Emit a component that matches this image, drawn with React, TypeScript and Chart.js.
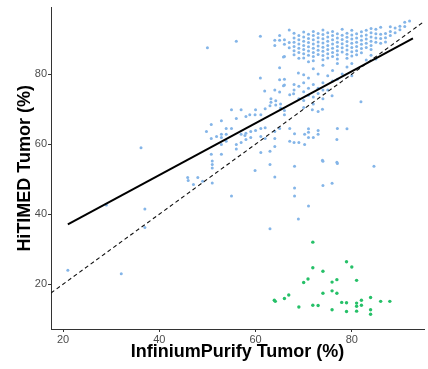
import React, { useEffect, useRef } from "react";
import { Chart, registerables } from "chart.js";

Chart.register(...registerables);

const xTickValues = [20, 40, 60, 80];
const yTickValues = [20, 40, 60, 80];

// Upper dense cluster, stored as columns: x value and the y values in that column
const upperColumnX = [64, 65, 66, 67, 68, 69, 70, 71, 72, 73, 74, 75, 76, 77, 78, 79, 80, 81, 82, 83, 84, 85, 86, 87, 88, 89, 90, 91, 92];
const upperColumnY: number[][] = [
  [89.7, 88.2],
  [89.7, 91],
  [89.8, 88.5, 85],
  [92.6, 87.5, 89],
  [91.7, 90.3, 89.1, 87.9, 86.7, 85.5],
  [91, 89.8, 88.6, 87.4, 86.2, 84.5],
  [92, 90.6, 89.4, 88.2, 87, 85.8, 84.6],
  [91.4, 90.2, 89, 87.8, 86.6, 85.4, 83.5],
  [92.2, 91, 89.8, 88.6, 87.4, 86.2, 85, 83.8],
  [91.6, 90.4, 89.2, 88, 86.8, 85.6],
  [92.6, 91.3, 90.1, 88.9, 87.7, 86.5, 85.3, 84.1],
  [91.8, 90.6, 89.4, 88.2, 87, 85.8, 84.6],
  [92.2, 91, 89.8, 88.6, 87.4, 86.2, 85],
  [91.5, 90.3, 89.1, 87.9, 86.7, 85.5, 84.3],
  [92.8, 91.1, 89.9, 88.7, 87.5, 86.3],
  [91.7, 90.5, 89.3, 88.1, 86.9, 85.7, 84.5],
  [92.5, 91.2, 90, 88.8, 87.6, 86.4, 85.2],
  [91.5, 90.3, 89.1, 87.9, 86.7, 85.5],
  [92.1, 90.9, 89.7, 88.5, 87.3, 86.1],
  [92.5, 91.2, 90, 88.8, 87.6],
  [93, 91.8, 90.6, 89.4, 88.2, 87, 85.4],
  [92.8, 91.5, 90.3, 89.1, 84.3],
  [93.4, 91.4, 90.2, 88.8],
  [91.6, 90.4, 89.2],
  [93.5, 92.2, 91],
  [93.2, 91.8],
  [93.7, 92.7],
  [94.8, 93.6],
  [95.2],
];

const blueMiddle: [number, number][] = [
  [61.9, 75.2], [64, 75.5], [65, 74.9], [66, 76.9], [66, 78.5], [63.2, 73], [63.2, 72], [64.2, 72.4],
  [64.2, 71.2], [65.2, 71.5], [65.2, 70.3], [66, 69.6], [66, 68.4], [67.1, 74.1], [67.9, 74.4], [63, 71],
  [62, 70.1], [60, 69.8], [61.1, 68.4], [59.9, 68.4], [58.8, 68.4], [57, 69.8], [55, 69.8], [58, 67.9],
  [56, 67.3], [52.9, 66.7], [50.8, 65.6], [53.9, 64.5], [55, 64.5], [57, 62.8], [58, 63.1], [59, 63.6],
  [60, 63.9], [61.1, 64.5], [62, 64.7], [56, 59.9], [57, 60.5], [58, 61.3], [59, 61.9], [61.1, 62.2],
  [62, 61.6], [64, 63.6], [65, 64.5], [64, 61.6], [67.1, 64.5], [68.1, 63], [67.1, 60.8], [49.8, 63.6],
  [50.8, 61.6], [51.9, 62.2], [52.9, 62.8], [53.9, 62.8], [52.9, 59.9], [53.9, 60.8], [52.9, 61.9],
  [56, 58.6], [57.8, 62.5], [81.9, 72.1], [79, 64.4], [76.9, 61.3], [73, 63.9], [73, 62.8], [71, 64.4],
  [71, 63.4], [68, 60.5], [69, 60.5], [70.2, 59.9], [70.2, 62.8], [71, 61.9], [72, 61.9], [71.8, 69.8],
  [73, 69.3], [73.9, 70], [75.9, 73.8], [77, 64.5], [68, 77], [68, 75.5], [69, 76.5], [69, 73],
  [70, 77.5], [70, 75], [70, 72.5], [71, 76], [71, 74], [72, 77], [72, 73.5], [73, 76], [73, 74.5],
  [74, 77.5], [74, 75.5], [74, 73], [75, 75.5], [76, 78], [72, 71.5], [70, 70.5], [65, 81.8],
  [65.8, 84.9], [68.9, 80.3], [70, 79.8], [71, 78.9], [72, 81.5], [73, 80], [74, 82.5], [75, 79.5],
  [76, 81], [77, 83], [78, 80], [79, 82], [80, 79.5], [80, 83], [83, 84], [77, 78.5], [61, 78.9],
  [65.8, 76.7], [65, 78.4], [56, 89.4], [61, 90.8], [50, 87.5],
];

const blueLower: [number, number][] = [
  [21, 24], [29, 42.6], [32.1, 23], [36.2, 59], [37, 41.5], [37, 36.2], [45.9, 50.5], [46, 49.6],
  [47.1, 48.5], [48, 50.5], [49, 49.4], [50.8, 57.1], [51, 54.2], [51, 53.2], [51, 55.2], [51, 48.9],
  [52.9, 57.1], [55, 45.2], [59.9, 52.5], [63, 54.2], [64, 50.6], [68.1, 53.7], [68.1, 47.5], [68.1, 45.2],
  [74, 55.1], [76.9, 54.8], [74, 48.2], [75.9, 48.8], [71, 42.3], [68.9, 38.6], [63, 35.8], [77, 54.5],
  [84.6, 53.7], [73.9, 55.4], [61.1, 57.6], [63, 58], [64, 59.3],
];

const greenPoints: [number, number][] = [
  [71.9, 32], [71.9, 24.7], [74, 23.7], [78.9, 26.4], [80, 24.9], [70.9, 21.5], [70, 20.5], [76.9, 21.3],
  [75.9, 20.6], [81, 21.1], [74, 17.4], [75.9, 18.1], [76.9, 17.4], [66.9, 16.9], [66, 15.9], [63.9, 15.4],
  [64.1, 15.1], [77.9, 14.8], [78.9, 14.7], [81, 14.6], [81, 13.7], [81, 12.3], [82, 15.4], [82, 14],
  [83.9, 16.2], [83.9, 12.7], [83.9, 11.4], [86, 15.1], [87.9, 15.1], [69, 13.5], [71.9, 14], [73, 13.9],
  [75.9, 12.7], [78.9, 12.2],
];

const fitLine: [number, number][] = [[21, 37.1], [92.7, 90.2]];
const identityLine: [number, number][] = [[17.5, 17.5], [95, 95]];

const xTitle = "InfiniumPurify Tumor (%)";
const yTitle = "HiTIMED Tumor (%)";

const toXY = (arr: [number, number][]) => arr.map(([x, y]) => ({ x, y }));

export default function App() {
  const ref = useRef<HTMLCanvasElement>(null);
  useEffect(() => {
    document.body.style.margin = "0";
    const upper: [number, number][] = [];
    upperColumnX.forEach((x, i) => upperColumnY[i].forEach((y) => upper.push([x, y])));
    const blue = toXY([...upper, ...blueMiddle, ...blueLower]);
    const family = "'Liberation Sans', Arial, sans-serif";
    const chart = new Chart(ref.current!, {
      type: "scatter",
      data: {
        datasets: [
          {
            type: "line",
            data: toXY(fitLine),
            borderColor: "#000",
            borderWidth: 2,
            pointRadius: 0,
            showLine: true,
            order: 0,
          } as any,
          {
            type: "line",
            data: toXY(identityLine),
            borderColor: "#111",
            borderWidth: 1.1,
            borderDash: [4, 3],
            pointRadius: 0,
            showLine: true,
            order: 0,
          } as any,
          {
            data: blue,
            backgroundColor: "#84b5e8",
            borderWidth: 0,
            pointRadius: 1.5,
            order: 1,
          },
          {
            data: toXY(greenPoints),
            backgroundColor: "#26c068",
            borderWidth: 0,
            pointRadius: 1.7,
            order: 1,
          },
        ],
      },
      options: {
        animation: false,
        responsive: false,
        plugins: { legend: { display: false }, tooltip: { enabled: false } },
        layout: { padding: { top: 5, right: 0, left: 0, bottom: 0 } },
        scales: {
          x: {
            type: "linear",
            min: 17.5,
            max: 95,
            afterBuildTicks: (s: any) => {
              s.ticks = xTickValues.map((v) => ({ value: v }));
            },
            afterFit: (s: any) => {
              s.height = 40;
            },
            grid: { drawOnChartArea: false, tickLength: 3, color: "#333", tickWidth: 1 },
            border: { color: "#333", width: 1 },
            ticks: { padding: 1, color: "#4d4d4d", font: { family, size: 11 }, maxRotation: 0 },
            title: {
              display: true,
              text: xTitle,
              color: "#000",
              font: { family, size: 18, weight: "bold" },
              padding: { top: 0, bottom: 6 },
            },
          },
          y: {
            type: "linear",
            min: 7.2,
            max: 99,
            afterBuildTicks: (s: any) => {
              s.ticks = yTickValues.map((v) => ({ value: v }));
            },
            afterFit: (s: any) => {
              s.width = 51;
            },
            grid: { drawOnChartArea: false, tickLength: 3, color: "#333", tickWidth: 1 },
            border: { color: "#333", width: 1 },
            ticks: { padding: 1, color: "#4d4d4d", font: { family, size: 11 } },
            title: {
              display: true,
              text: yTitle,
              color: "#000",
              font: { family, size: 18, weight: "bold" },
              padding: { top: 14, bottom: 0 },
            },
          },
        },
      },
    } as any);
    return () => chart.destroy();
  }, []);
  return <canvas ref={ref} width={428} height={369} style={{ display: "block" }} />;
}
